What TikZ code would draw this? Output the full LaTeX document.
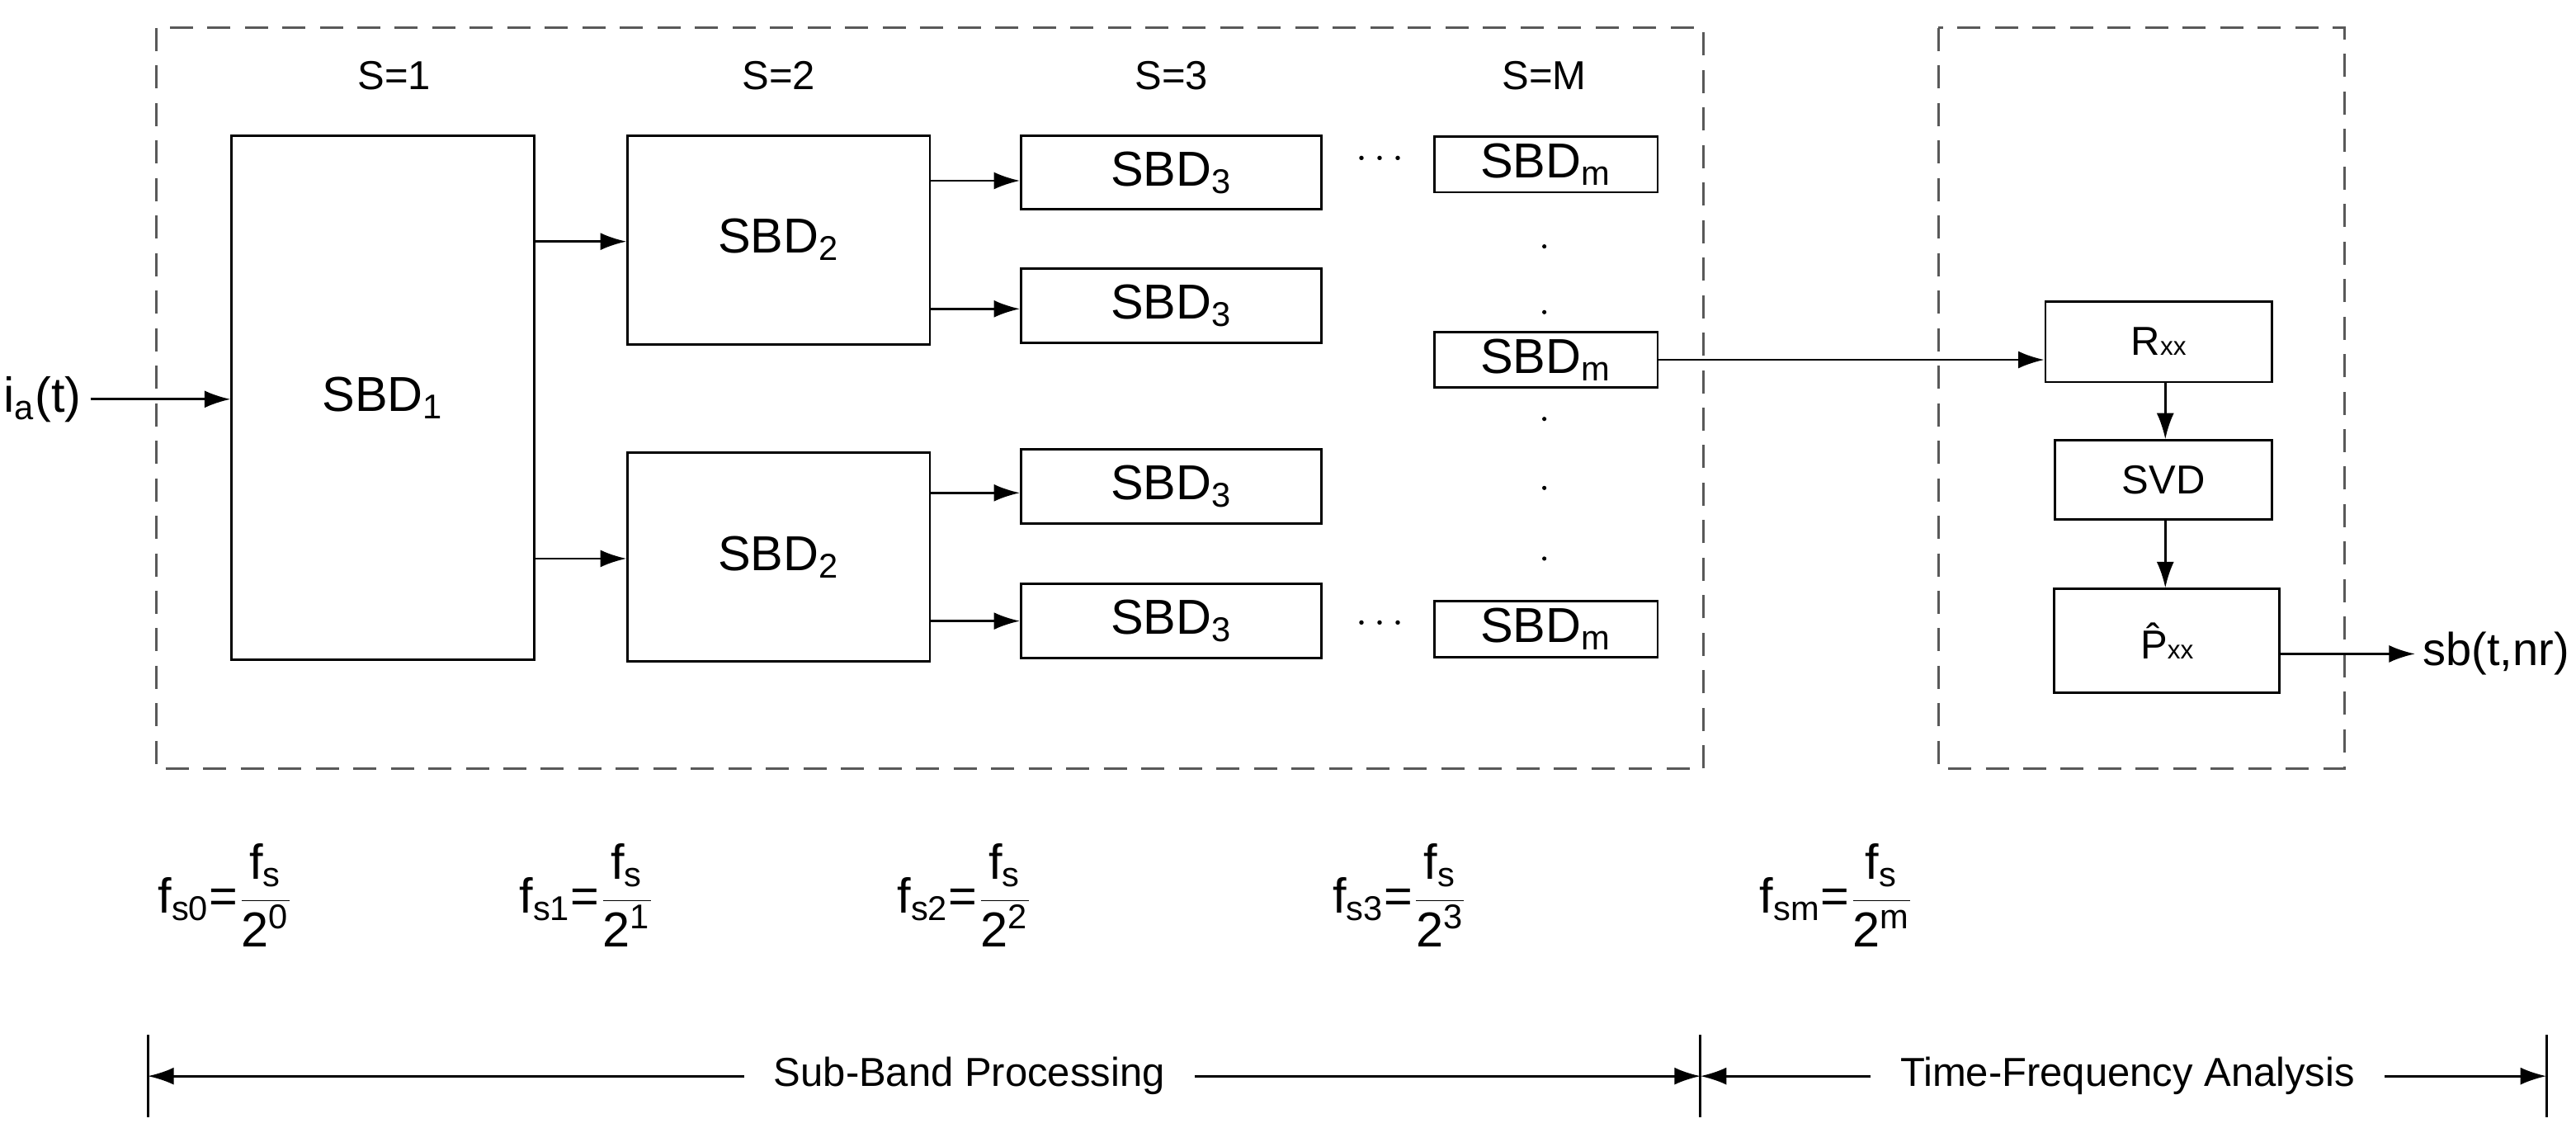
\documentclass[tikz,border=0pt]{standalone}
\usepackage{fontspec}
\setmainfont{Liberation Sans}
\usetikzlibrary{arrows.meta}
\begin{document}
\begin{tikzpicture}[x=0.02cm,y=-0.02cm,
 box/.style={draw,thick,inner sep=0pt},
 big/.style={font=\fontsize{17}{20}\selectfont},
 mid/.style={font=\fontsize{14}{17}\selectfont},
 arr/.style={-{Latex[length=9pt,width=6pt]},thick},
 dbox/.style={draw,thick,dash pattern=on 8pt off 5pt,gray!70!black}]
\useasboundingbox (0,0) rectangle (1568,695);
\path[dbox] (95,17) rectangle (1037,468);
\path[dbox] (1180,17) rectangle (1427,468);
\foreach \x/\t in {240/S=1,474/S=2,713/S=3,940/S=M} \node[mid] at (\x,46) {\t};
\node[box,minimum width=184*0.02cm,minimum height=319*0.02cm,big] (s1) at (233,242) {SBD\textsubscript{1}};
\node[box,minimum width=184*0.02cm,minimum height=127*0.02cm,big] (s2a) at (474,146) {SBD\textsubscript{2}};
\node[box,minimum width=184*0.02cm,minimum height=127*0.02cm,big] (s2b) at (474,339) {SBD\textsubscript{2}};
\foreach \n/\y in {a/105,b/186,c/296,d/378}
 \node[box,minimum width=183*0.02cm,minimum height=45*0.02cm,big] (s3\n) at (713,\y) {SBD\textsubscript{3}};
\foreach \n/\y in {a/100,b/219,c/383}
 \node[box,minimum width=136*0.02cm,minimum height=34*0.02cm,big] (sm\n) at (941,\y) {SBD\textsubscript{m}};
\node[mid] (d1) at (840,97) {$\cdots$};
\node[mid] (d2) at (840,380) {$\cdots$};
\foreach \y in {150,190,255,297,340} \fill (940,\y) circle (1.3);
\node[big,anchor=west,inner sep=1pt] (in) at (0,243) {i\textsubscript{a}(t)};
\coordinate (ie) at (55,243);
\draw[arr] (ie) -- (s1.west|-ie);
\draw[arr] (s1.east|-0,147) -- (s2a.west|-0,147);
\draw[arr] (s1.east|-0,340) -- (s2b.west|-0,340);
\draw[arr] (s2a.east|-0,110) -- (s3a.west|-0,110);
\draw[arr] (s2a.east|-0,188) -- (s3b.west|-0,188);
\draw[arr] (s2b.east|-0,300) -- (s3c.west|-0,300);
\draw[arr] (s2b.east|-0,378) -- (s3d.west|-0,378);
\node[box,minimum width=138*0.02cm,minimum height=49*0.02cm,mid] (rxx) at (1314,208) {R{\small xx}};
\node[box,minimum width=132*0.02cm,minimum height=48*0.02cm,mid] (svd) at (1317,292) {SVD};
\node[box,minimum width=137*0.02cm,minimum height=63*0.02cm,mid] (pxx) at (1319,390) {\^{P}{\small xx}};
\draw[arr] (smb.east) -- (rxx.west|-smb.east);
\draw[arr] (rxx.south-|1318,0) -- (svd.north-|1318,0);
\draw[arr] (svd.south-|1318,0) -- (pxx.north-|1318,0);
\coordinate (o) at (1470,398);
\draw[arr] (pxx.east|-o) -- (o);
\node[font=\fontsize{16}{19}\selectfont,anchor=east,inner sep=1pt] (sb) at (1566,398) {sb(t,nr)};
\foreach \x/\i/\e in {135/0/0,355/1/1,585/2/2,850/3/3,1110/m/m}
 \node[big,anchor=west] at (\x-45,545) {f\textsubscript{s\i}=$\displaystyle\frac{\mbox{f\textsubscript{s}}}{\mbox{2\textsuperscript{\e}}}$};
\foreach \x in {90,1035,1550} \draw[thick] (\x,630) -- (\x,680);
\node[mid] (sbp) at (590,655) {Sub-Band Processing};
\node[mid] (tfa) at (1295,655) {Time-Frequency Analysis};
\coordinate (a1) at (90,655); \coordinate (a2) at (1035,655); \coordinate (a3) at (1550,655);
\draw[arr] (sbp.west) ++(-12,0) -- (a1);
\draw[arr] (sbp.east) ++(12,0) -- (a2);
\draw[arr] (tfa.west) ++(-12,0) -- (a2);
\draw[arr] (tfa.east) ++(12,0) -- (a3);
\end{tikzpicture}
\end{document}
